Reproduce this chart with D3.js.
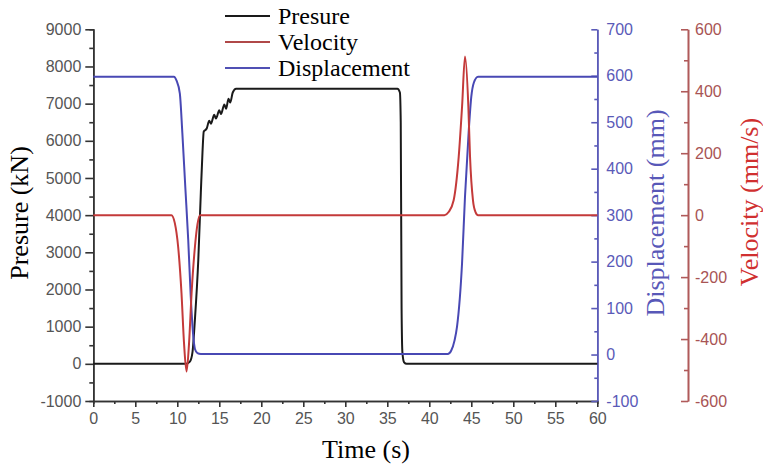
<!DOCTYPE html>
<html>
<head>
  <meta charset="UTF-8">
  <title>Presure, velocity and displacement</title>
  <script src="https://cdn.jsdelivr.net/npm/d3@7"></script>
  <style>
    body { margin: 0; background: #fff; }
    .tick text { font-family: "Liberation Sans", Arial, sans-serif; font-size: 16px; }
    .title { font-family: "Liberation Serif", "Times New Roman", serif; font-size: 26px; }
  </style>
</head>
<body>
<svg id="chart" width="763" height="466"></svg>
<script>
// values, [time (s), value]
const presure = [
  [0, 0], [11.0, 0], [11.5, 60], [11.8, 300], [12.1, 1200], [12.5, 2800], [12.8, 4600],
  [13.0, 5700], [13.15, 6250], [13.5, 6330], [13.8, 6540], [14.0, 6460], [14.4, 6700],
  [14.6, 6600], [15.0, 6820], [15.2, 6720], [15.6, 6980], [15.8, 6860], [16.1, 7130],
  [16.3, 7030], [16.6, 7300], [17.0, 7400], [36.2, 7400], [36.5, 7300], [36.6, 6500],
  [36.7, 1500], [36.8, 300], [37.0, 40], [37.3, 0], [60, 0]
];
const velocity = [
  [0, 0], [9.3, 0], [9.7, -25], [10.1, -102], [10.5, -252], [10.8, -413], [11.1, -505],
  [11.4, -413], [11.7, -252], [12.1, -102], [12.4, -30], [12.7, 0], [41.8, 0], [42.3, 10],
  [42.9, 48], [43.5, 188], [43.9, 350], [44.25, 512], [44.65, 350], [44.85, 188],
  [45.2, 48], [45.5, 10], [45.8, 0], [60, 0]
];
const displacement = [
  [0, 598], [9.6, 598], [9.9, 590], [10.3, 562], [10.6, 477], [10.95, 361], [11.3, 247],
  [11.6, 125], [11.9, 40], [12.1, 12], [12.4, 3], [12.8, 1], [42.2, 1], [42.6, 8],
  [43.0, 30], [43.3, 60], [43.9, 197], [44.25, 340], [44.7, 483], [45.0, 555],
  [45.3, 585], [45.8, 598], [60, 598]
];
const timeTicks = d3.range(0, 61, 5);
const presureTicks = d3.range(-1000, 9001, 1000);
const dispTicks = d3.range(-100, 701, 100);
const velTicks = d3.range(-600, 601, 200);
const legendNames = ['Presure', 'Velocity', 'Displacement'];

const colBlack = '#1a1a1a', colRed = '#c43a3a', colBlue = '#4848b4';
const svg = d3.select('#chart');
const plain = d => String(d);

const x = d3.scaleLinear().domain([0, 60]).range([93.3, 597.3]);
const yP = d3.scaleLinear().domain([-1000, 9000]).range([401, 29.3]);
const yD = d3.scaleLinear().domain([-100, 700]).range([401, 29.3]);
const yV = d3.scaleLinear().domain([-600, 600]).range([401, 29.3]);

function styleAxis(g, lineCol, textCol)
{
  g.select('.domain').attr('stroke', lineCol).attr('stroke-width', 1.6);
  g.selectAll('.tick line').attr('stroke', lineCol).attr('stroke-width', 1.6);
  g.selectAll('.tick text').attr('fill', textCol);
}

// minor ticks first, so the major axes sit on top
svg.append('g').attr('transform', 'translate(93.3,0)')
  .call(d3.axisLeft(yP).tickValues(d3.range(-500, 9000, 1000)).tickSize(4).tickFormat(''))
  .call(g => styleAxis(g, '#333', '#555'));
svg.append('g').attr('transform', 'translate(0,401)')
  .call(d3.axisBottom(x).tickValues(d3.range(2.5, 60, 5)).tickSize(3).tickFormat(''))
  .call(g => styleAxis(g, '#333', '#555'));
svg.append('g').attr('transform', 'translate(597.3,0)')
  .call(d3.axisRight(yD).tickValues(d3.range(-50, 700, 100)).tickSizeInner(-3).tickSizeOuter(0).tickFormat(''))
  .call(g => styleAxis(g, '#5a5ab8', '#5a5ab8'));
svg.append('g').attr('transform', 'translate(688,0)')
  .call(d3.axisRight(yV).tickValues(d3.range(-500, 600, 200)).tickSizeInner(-4).tickSizeOuter(0).tickFormat(''))
  .call(g => styleAxis(g, '#b05a5a', '#a85454'));

svg.append('g').attr('transform', 'translate(93.3,0)')
  .call(d3.axisLeft(yP).tickValues(presureTicks).tickFormat(plain).tickSize(8).tickPadding(4).tickSizeOuter(0))
  .call(g => styleAxis(g, '#333', '#555'));
svg.append('g').attr('transform', 'translate(0,401)')
  .call(d3.axisBottom(x).tickValues(timeTicks).tickFormat(plain).tickSize(6).tickPadding(6).tickSizeOuter(0))
  .call(g => styleAxis(g, '#333', '#555'));
svg.append('g').attr('transform', 'translate(597.3,0)')
  .call(d3.axisRight(yD).tickValues(dispTicks).tickFormat(plain).tickSizeInner(-6).tickSizeOuter(0).tickPadding(9))
  .call(g => styleAxis(g, '#5a5ab8', '#5a5ab8'));
svg.append('g').attr('transform', 'translate(688,0)')
  .call(d3.axisRight(yV).tickValues(velTicks).tickFormat(plain).tickSizeInner(-7).tickSizeOuter(0).tickPadding(7))
  .call(g => styleAxis(g, '#b05a5a', '#a85454'));

// series
const lineOf = y => d3.line().x(d => x(d[0])).y(d => y(d[1])).curve(d3.curveMonotoneX);
svg.append('path').datum(presure).attr('d', lineOf(yP))
  .attr('fill', 'none').attr('stroke', colBlack).attr('stroke-width', 2);
svg.append('path').datum(displacement).attr('d', lineOf(yD))
  .attr('fill', 'none').attr('stroke', colBlue).attr('stroke-width', 2);
svg.append('path').datum(velocity).attr('d', lineOf(yV))
  .attr('fill', 'none').attr('stroke', colRed).attr('stroke-width', 2);

// axis titles
svg.append('text').attr('class', 'title').attr('text-anchor', 'middle')
  .attr('transform', 'translate(28,213) rotate(-90)').attr('fill', '#000').text('Presure (kN)');
svg.append('text').attr('class', 'title').attr('text-anchor', 'middle')
  .attr('x', 366).attr('y', 458).attr('fill', '#000').text('Time (s)');
svg.append('text').attr('class', 'title').attr('text-anchor', 'middle')
  .attr('transform', 'translate(664,213) rotate(-90)').attr('fill', '#5858b8').text('Displacement (mm)');
svg.append('text').attr('class', 'title').attr('text-anchor', 'middle')
  .attr('transform', 'translate(758,202) rotate(-90)').attr('fill', '#d03030').text('Velocity (mm/s)');

// legend
const legendCols = [colBlack, '#b04848', '#5050b4'];
const legend = svg.append('g').selectAll('g').data(legendNames).enter().append('g')
  .attr('transform', (d, i) => `translate(225,${16 + i * 26})`);
legend.append('line').attr('x1', 0).attr('x2', 45).attr('y1', 0).attr('y2', 0)
  .attr('stroke', (d, i) => legendCols[i]).attr('stroke-width', 2);
legend.append('text').attr('class', 'title').attr('x', 53).attr('y', 8)
  .style('font-size', '24px').attr('fill', '#000').text(d => d);
</script>
</body>
</html>
